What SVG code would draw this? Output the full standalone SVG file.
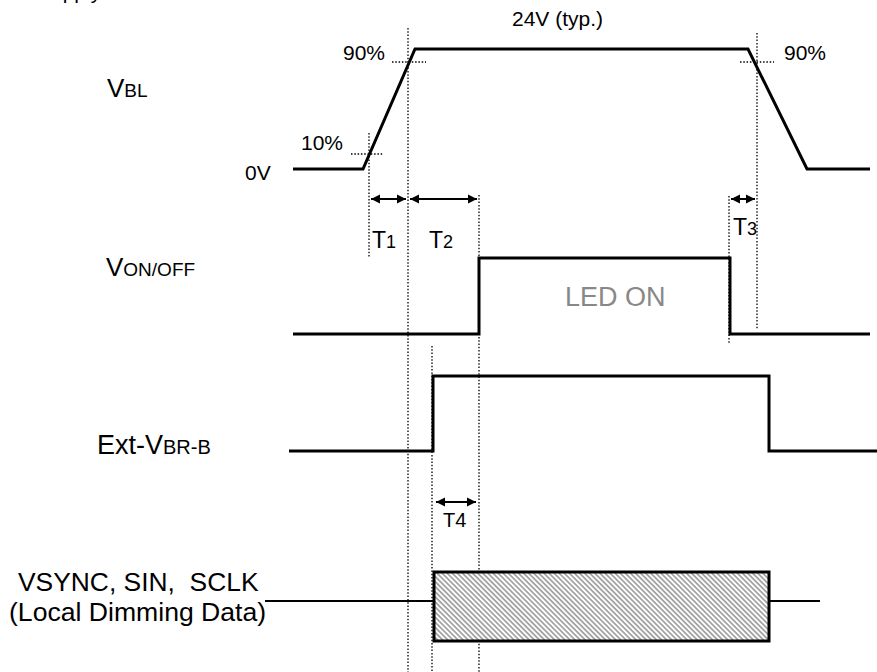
<svg xmlns="http://www.w3.org/2000/svg" width="877" height="672" viewBox="0 0 877 672">
<style>
text{font-family:"Liberation Sans",Arial,sans-serif;fill:#000}
.lbl{font-size:21px}
.big{font-size:26px}
.sub{font-size:19px}
.tb{font-size:23px}
.ts{font-size:18px}
.sig{fill:none;stroke:#000;stroke-width:3;stroke-linejoin:miter}
.dot{fill:none;stroke:#000;stroke-width:1.3;stroke-dasharray:1.5 1.8}
.arr{fill:none;stroke:#000;stroke-width:2;marker-start:url(#ah);marker-end:url(#ah)}
</style>
<defs>
<marker id="ah" viewBox="0 0 10 10" refX="10" refY="5" markerWidth="4.5" markerHeight="5" markerUnits="strokeWidth" orient="auto-start-reverse">
<path d="M0,0 L10,5 L0,10 z" fill="#000"/>
</marker>
<pattern id="hatch" patternUnits="userSpaceOnUse" width="3.6" height="3.6" patternTransform="rotate(-45)">
<rect width="3.6" height="3.6" fill="#fff"/>
<line x1="0.9" y1="0" x2="0.9" y2="3.6" stroke="#999" stroke-width="1.6"/>
</pattern>
</defs>
<text class="lbl" x="37" y="-1">Supply</text>

<g id="guides">
<line class="dot" x1="408" y1="28" x2="408" y2="672"/>
<line class="dot" x1="369" y1="133" x2="369" y2="258"/>
<line class="dot" x1="479" y1="195" x2="479" y2="672"/>
<line class="dot" x1="757" y1="33" x2="757" y2="330"/>
<line class="dot" x1="729" y1="196" x2="729" y2="344"/>
<line class="dot" x1="432" y1="346" x2="432" y2="672"/>
<line class="dot" x1="392" y1="62" x2="426" y2="62"/>
<line class="dot" x1="351" y1="154" x2="384" y2="154"/>
<line class="dot" x1="740" y1="62" x2="774" y2="62"/>
</g>

<g id="vbl">
<text x="107" y="97"><tspan class="big">V</tspan><tspan class="sub">BL</tspan></text>
<text class="lbl" x="512" y="26">24V (typ.)</text>
<text class="lbl" x="343" y="60">90%</text>
<text class="lbl" x="784" y="60">90%</text>
<text class="lbl" x="301" y="150">10%</text>
<text class="lbl" x="245" y="180">0V</text>
<polyline class="sig" points="293,169 363,169 415,49 748,49 807,169 870,169"/>
</g>

<g id="von">
<text x="106" y="276"><tspan class="big">V</tspan><tspan class="sub">ON/OFF</tspan></text>
<polyline class="sig" points="293,334 479,334 479,258 730,258 730,334 870,334"/>
<text x="565" y="306" style="font-size:27px;fill:#888">LED ON</text>
</g>

<g id="extvbr">
<text x="97" y="454"><tspan style="font-size:27px">Ext-V</tspan><tspan style="font-size:20px">BR-B</tspan></text>
<polyline class="sig" points="289,451 433,451 433,376 769,376 769,451 877,451"/>
</g>

<g id="data">
<text x="18" y="591" style="font-size:26.4px;white-space:pre" xml:space="preserve">VSYNC, SIN,  SCLK</text>
<text x="9" y="621" style="font-size:26.6px">(Local Dimming Data)</text>
<line x1="265" y1="601" x2="434" y2="601" stroke="#000" stroke-width="2"/>
<line x1="769" y1="601" x2="820" y2="601" stroke="#000" stroke-width="2"/>
<rect x="434" y="572" width="335" height="69" fill="url(#hatch)" stroke="#000" stroke-width="3"/>
</g>

<g id="connectors">
<line class="arr" x1="371" y1="199" x2="406" y2="199"/>
<line class="arr" x1="410" y1="199" x2="477" y2="199"/>
<line class="arr" x1="731" y1="199" x2="755" y2="199"/>
<line class="arr" x1="436" y1="502" x2="476" y2="502"/>
</g>

<g id="timing-labels">
<text x="372" y="248"><tspan class="tb">T</tspan><tspan class="ts">1</tspan></text>
<text x="429" y="248"><tspan class="tb">T</tspan><tspan class="ts">2</tspan></text>
<text x="733" y="235"><tspan class="tb">T</tspan><tspan class="ts">3</tspan></text>
<text x="443" y="527" style="font-size:20px">T4</text>
</g>
</svg>
